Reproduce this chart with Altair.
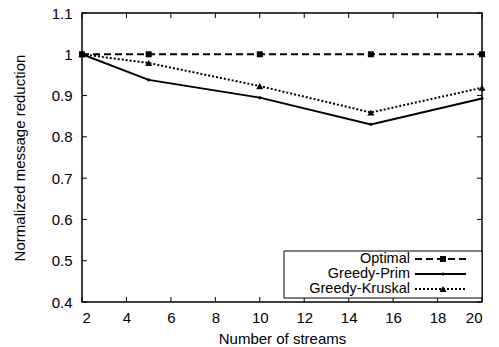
import altair as alt
import pandas as pd

streams = [2, 5, 10, 15, 20]
optimal = [1.0, 1.0, 1.0, 1.0, 1.0]
greedy_prim = [1.0, 0.938, 0.895, 0.830, 0.893]
greedy_kruskal = [1.0, 0.979, 0.923, 0.859, 0.919]
series_names = ["Optimal", "Greedy-Prim", "Greedy-Kruskal"]
x_ticks = [2, 4, 6, 8, 10, 12, 14, 16, 18, 20]
y_ticks = [0.4, 0.5, 0.6, 0.7, 0.8, 0.9, 1.0, 1.1]

W, H = 400, 289
FONT = "Liberation Sans"
FS = 15

xs = alt.Scale(domain=[2, 20], nice=False, zero=False)
ys = alt.Scale(domain=[0.4, 1.1], nice=False, zero=False)

def frame(name, vals):
    return pd.DataFrame({"streams": streams, "value": vals, "series": name})

df_opt = frame(series_names[0], optimal)
df_prim = frame(series_names[1], greedy_prim)
df_kru = frame(series_names[2], greedy_kruskal)

x_axis = alt.Axis(values=x_ticks, ticks=False, tickSize=0, domain=False, grid=False,
                  labelFont=FONT, labelFontSize=FS, labelColor="black", labelPadding=8,
                  title="Number of streams", titleFont=FONT, titleFontSize=FS,
                  titleFontWeight="normal", titleColor="black", titlePadding=6)
y_axis = alt.Axis(values=y_ticks, format="~g", ticks=False, tickSize=0, domain=False, grid=False,
                  labelFont=FONT, labelFontSize=FS, labelColor="black", labelPadding=10,
                  title="Normalized message reduction", titleFont=FONT, titleFontSize=FS,
                  titleFontWeight="normal", titleColor="black", titlePadding=24)

def enc(chart):
    return chart.encode(
        x=alt.X("streams:Q", scale=xs, axis=x_axis),
        y=alt.Y("value:Q", scale=ys, axis=y_axis),
    )

opt_line = enc(alt.Chart(df_opt).mark_line(color="black", strokeWidth=2, strokeDash=[7, 4]))
opt_pts = enc(alt.Chart(df_opt).mark_point(shape="square", size=36, filled=True, color="black", opacity=1))
prim_line = enc(alt.Chart(df_prim).mark_line(color="black", strokeWidth=2))
prim_pts = enc(alt.Chart(df_prim).mark_point(shape="diamond", size=14, filled=True, color="black", opacity=1))
kru_line = enc(alt.Chart(df_kru).mark_line(color="black", strokeWidth=2, strokeDash=[2, 2]))
kru_pts = enc(alt.Chart(df_kru).mark_point(shape="triangle-up", size=50, filled=True, color="black", opacity=1))

# inward mirrored ticks
dfx = pd.DataFrame({"streams": x_ticks})
dfy = pd.DataFrame({"value": y_ticks})
tick_layers = []
for y0, y1 in [(H, H - 5), (0, 5)]:
    tick_layers.append(alt.Chart(dfx).mark_rule(color="black", strokeWidth=1).encode(
        x=alt.X("streams:Q", scale=xs, axis=x_axis), y=alt.value(y0), y2=alt.value(y1)))
for x0, x1 in [(0, 5), (W, W - 5)]:
    tick_layers.append(alt.Chart(dfy).mark_rule(color="black", strokeWidth=1).encode(
        y=alt.Y("value:Q", scale=ys, axis=y_axis), x=alt.value(x0), x2=alt.value(x1)))

# legend (gnuplot style: label left, sample right)
one = pd.DataFrame({"a": [0]})
legend_box = alt.Chart(one).mark_rect(fill="white", stroke="black", strokeWidth=1).encode(
    x=alt.value(202), x2=alt.value(W), y=alt.value(238), y2=alt.value(285))
rows = [246, 261, 276]
styles = [
    dict(dash=[7, 4], shape="square", size=36),
    dict(dash=None, shape="diamond", size=14),
    dict(dash=[2, 2], shape="triangle-up", size=50),
]
legend_layers = [legend_box]
for name, ry, st in zip(series_names, rows, styles):
    legend_layers.append(alt.Chart(pd.DataFrame({"label": [name]})).mark_text(
        align="right", baseline="middle", font=FONT, fontSize=14.5, color="black").encode(
        x=alt.value(328), y=alt.value(ry), text="label:N"))
    rule_kw = dict(color="black", strokeWidth=2)
    if st["dash"]:
        rule_kw["strokeDash"] = st["dash"]
    legend_layers.append(alt.Chart(one).mark_rule(**rule_kw).encode(
        x=alt.value(333), x2=alt.value(384), y=alt.value(ry)))
    legend_layers.append(alt.Chart(one).mark_point(shape=st["shape"], size=st["size"], filled=True,
                                                   color="black", opacity=1).encode(
        x=alt.value(361), y=alt.value(ry)))

chart = alt.layer(
    opt_line, *tick_layers, prim_line, kru_line, opt_pts, prim_pts, kru_pts, *legend_layers
).properties(
    width=W, height=H,
    padding={"left": 74, "top": 5, "right": 9, "bottom": 47},
    autosize=alt.AutoSizeParams(type="none"),
    background="white",
).configure_view(stroke="black", strokeWidth=1.5)

chart.save("out.html", embed_options={"renderer": "svg", "actions": False})
